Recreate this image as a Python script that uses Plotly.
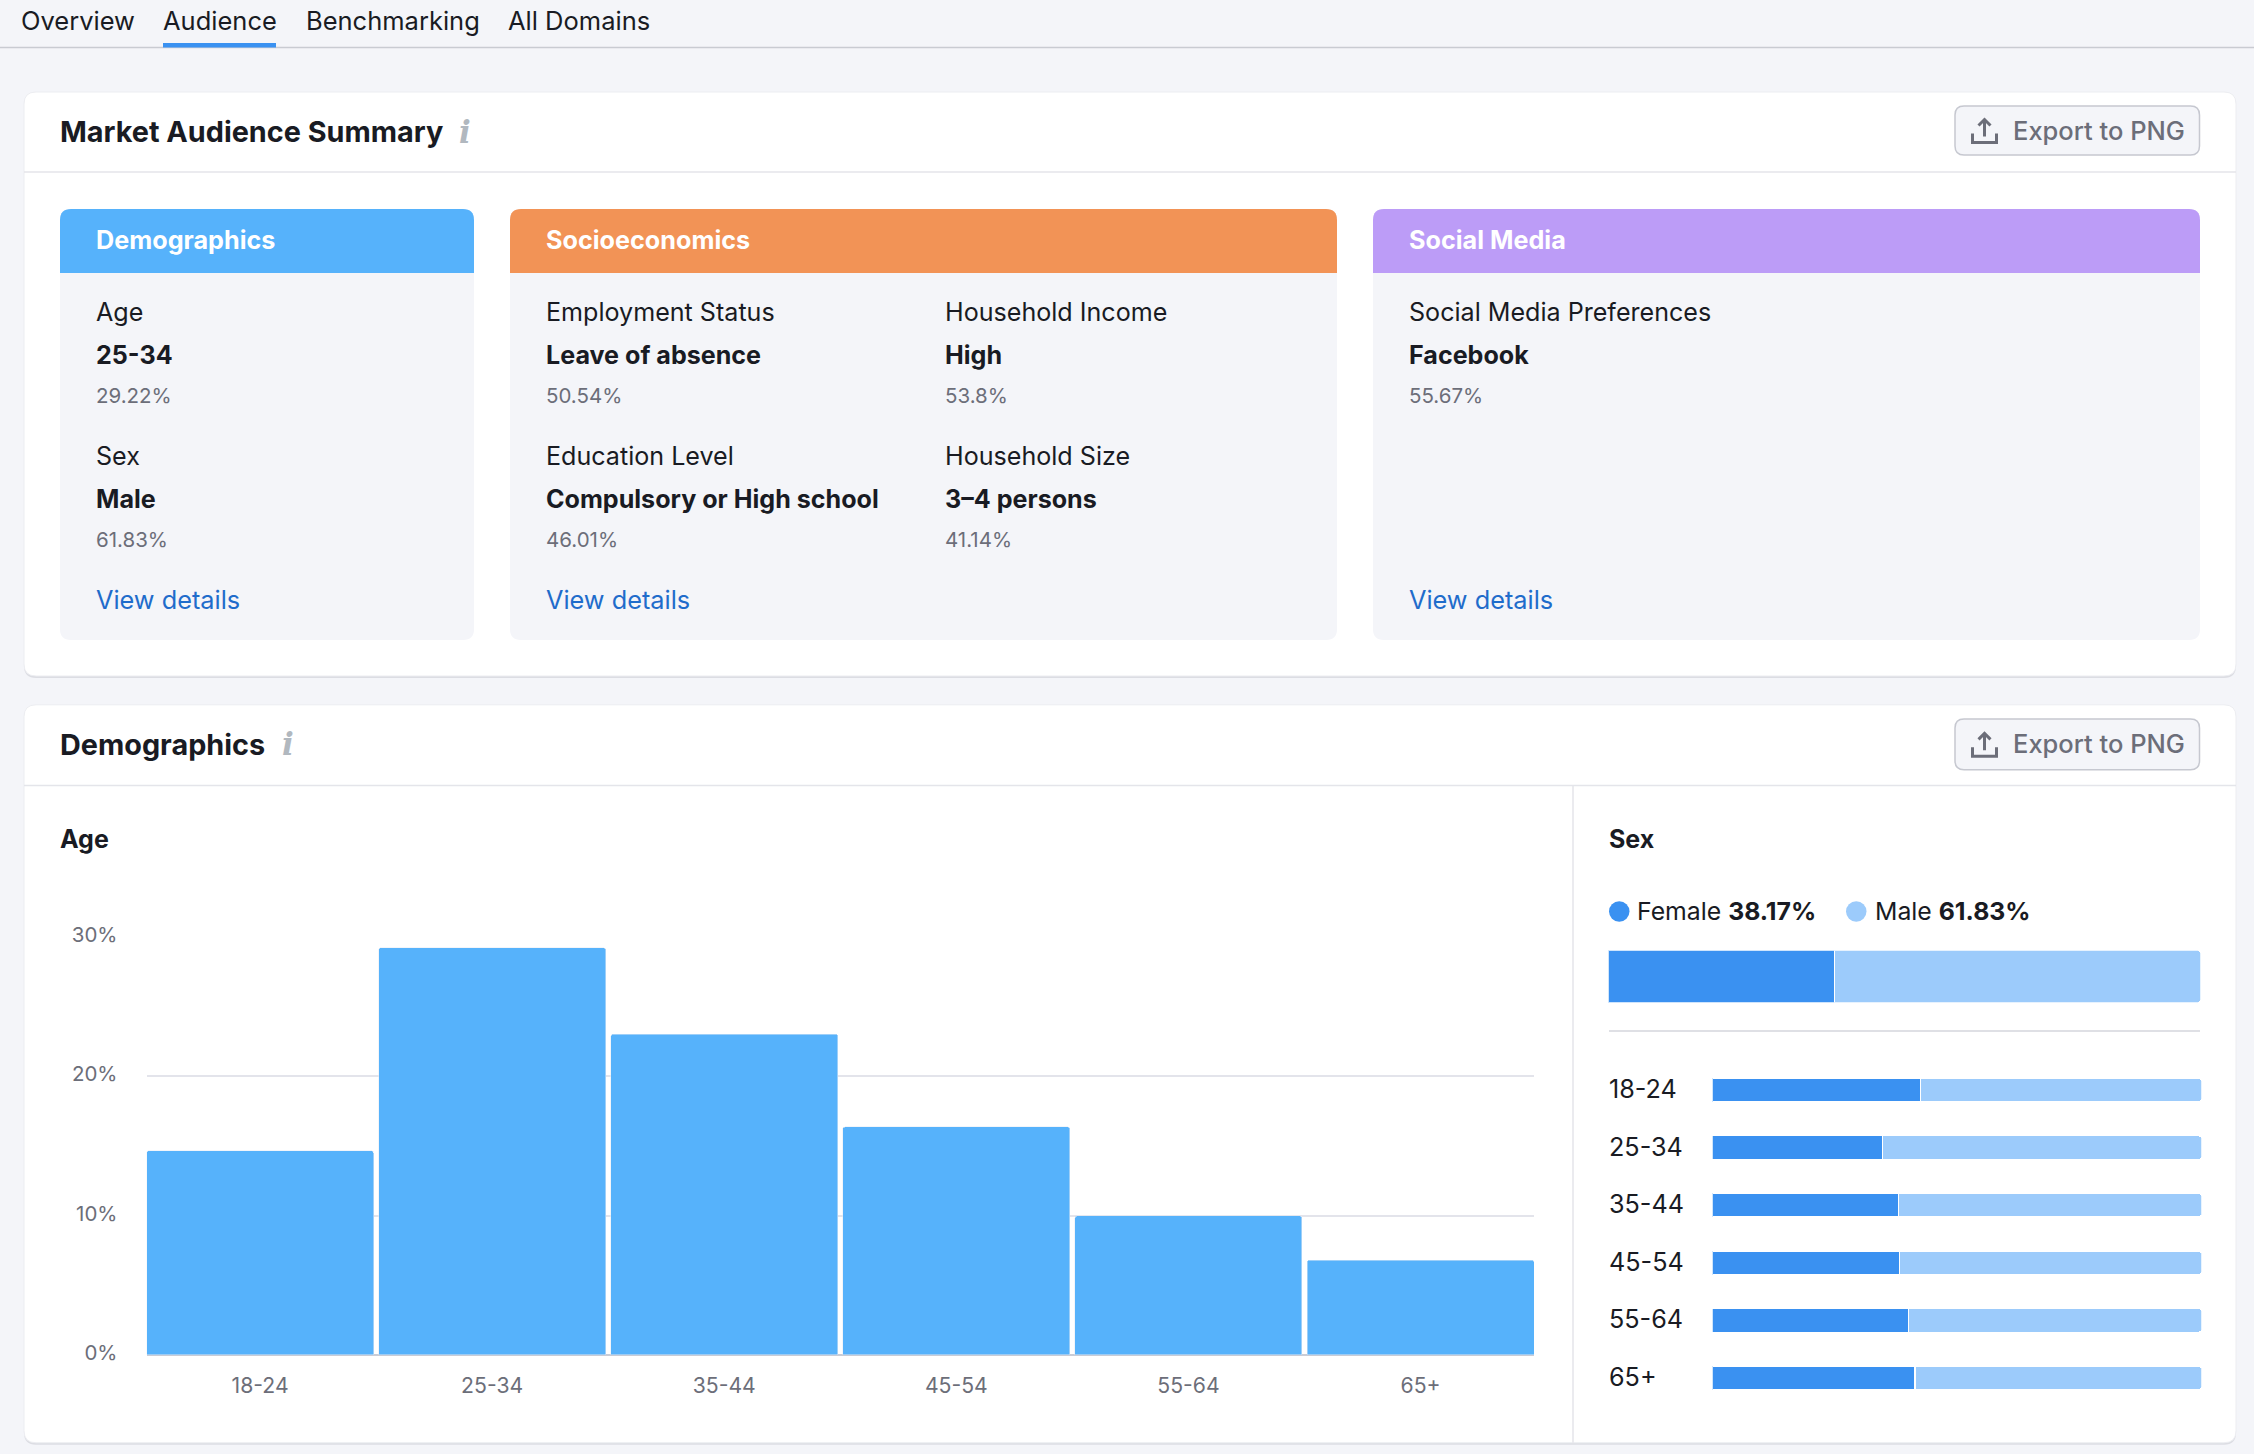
import plotly.graph_objects as go

W, H = 2254, 1454

# chart data
age_groups = ["18-24", "25-34", "35-44", "45-54", "55-64", "65+"]
age_share = [14.64, 29.22, 23.02, 16.36, 9.97, 6.79]
age_ticks = [0, 10, 20, 30]
age_tick_labels = ["0%", "10%", "20%", "30%"]
sex_total_female = 38.17
sex_total_male = 61.83
sex_female_by_age = [42.6, 34.8, 38.1, 38.3, 40.1, 41.4]
sex_male_by_age = [57.4, 65.2, 61.9, 61.7, 59.9, 58.6]

# page text
tabs = ["Overview", "Audience", "Benchmarking", "All Domains"]
demographics_labels = ["Age", "Sex"]
demographics_values = ["25-34", "Male"]
demographics_shares = ["29.22%", "61.83%"]
socio_labels = ["Employment Status", "Household Income", "Education Level", "Household Size"]
socio_values = ["Leave of absence", "High", "Compulsory or High school", "3–4 persons"]
socio_shares = ["50.54%", "53.8%", "46.01%", "41.14%"]
social_labels = ["Social Media Preferences"]
social_values = ["Facebook"]
social_shares = ["55.67%"]

# colours
PAGE = "#f4f5f9"
BORDER = "#e4e5ea"
INK = "#191b23"
GREY = "#6c6e79"
LINK = "#1f6ccb"
BLUE = "#56b2fb"
ORANGE = "#f29356"
PURPLE = "#bc9cf7"
FEMALE = "#3a91f1"
MALE = "#9ccbfb"
FONT = "Inter"

shapes = []
annotations = []


def px(x):
    return x / W


def py(y):
    return 1 - y / H


def text(x, y, s, size=25.1, color=INK, weight=400, anchor="left", family=FONT):
    annotations.append(dict(
        x=px(x - 1.2), y=py(y - 0.5), xref="paper", yref="paper", text=s, showarrow=False,
        xanchor=anchor, yanchor="middle", borderpad=0,
        font=dict(family=family, size=size, color=color, weight=weight),
    ))


def round_rect(x0, y0, x1, y1, r_top, r_bottom, fill, line=None, lw=1):
    # rounded box as an svg path, corners given in page pixels
    path = (
        f"M {px(x0 + r_top)} {py(y0)} L {px(x1 - r_top)} {py(y0)} "
        f"Q {px(x1)} {py(y0)} {px(x1)} {py(y0 + r_top)} "
        f"L {px(x1)} {py(y1 - r_bottom)} Q {px(x1)} {py(y1)} {px(x1 - r_bottom)} {py(y1)} "
        f"L {px(x0 + r_bottom)} {py(y1)} Q {px(x0)} {py(y1)} {px(x0)} {py(y1 - r_bottom)} "
        f"L {px(x0)} {py(y0 + r_top)} Q {px(x0)} {py(y0)} {px(x0 + r_top)} {py(y0)} Z"
    )
    shapes.append(dict(
        type="path", path=path, xref="paper", yref="paper", fillcolor=fill, layer="below",
        line=dict(color=line if line else "rgba(0,0,0,0)", width=lw),
    ))


def hline(x0, x1, y, color=BORDER, width=1.5):
    shapes.append(dict(type="line", xref="paper", yref="paper", layer="below",
                       x0=px(x0), x1=px(x1), y0=py(y), y1=py(y),
                       line=dict(color=color, width=width)))


def vline(x, y0, y1, color=BORDER, width=1.5):
    shapes.append(dict(type="line", xref="paper", yref="paper", layer="below",
                       x0=px(x), x1=px(x), y0=py(y0), y1=py(y1),
                       line=dict(color=color, width=width)))


def card(y0, y1, header_y, title, title_y, info_x, btn_y0, btn_y1):
    round_rect(24, y0 + 2, 2236, y1 + 2, 12, 12, "#dcdde3")
    round_rect(24, y0, 2236, y1, 12, 12, "white", "#ecedf1")
    hline(24, 2236, header_y)
    text(60, title_y, title, size=28.8, weight=650)
    text(info_x + 2, title_y, "<i>i</i>", size=31, color="#b1b8bf", weight=700, anchor="center",
         family="DejaVu Serif")
    # export button
    round_rect(1955, btn_y0, 2199.5, btn_y1, 9, 9, PAGE, "#c6c8d0", 1.5)
    mid = (btn_y0 + btn_y1) / 2
    text(2013, mid, "Export to PNG", size=25.5, color=GREY, weight=500)
    icon = dict(color=GREY, width=3)
    shapes.append(dict(type="path", xref="paper", yref="paper", line=icon, path=(
        f"M {px(1972.5)} {py(mid + 3)} L {px(1972.5)} {py(mid + 12)} "
        f"L {px(1996.5)} {py(mid + 12)} L {px(1996.5)} {py(mid + 3)}")))
    shapes.append(dict(type="path", xref="paper", yref="paper", line=icon, path=(
        f"M {px(1984.5)} {py(mid + 6)} L {px(1984.5)} {py(mid - 11)} "
        f"M {px(1978.5)} {py(mid - 5)} L {px(1984.5)} {py(mid - 11)} L {px(1990.5)} {py(mid - 5)}")))


def panel(x0, x1, color, title):
    round_rect(x0, 209, x1, 640, 11, 11, PAGE)
    round_rect(x0, 209, x1, 273, 11, 0, color)
    text(x0 + 36, 240.5, title, size=25.2, color="white", weight=700)
    text(x0 + 36, 600, "View details", size=25.3, color=LINK)


def stat(x, top, label, value, share):
    text(x, top + 0.5, label)
    text(x, top + 43.5, value, size=25.1, weight=650)
    text(x, top + 83.5, share, size=20.5, color=GREY)


# page chrome
hline(0, W, 47.5, color="#c9cbd2", width=1.5)
for s, x in zip(tabs, [21, 163.5, 306, 508]):
    text(x, 21, s, size=25.5)
shapes.append(dict(type="rect", xref="paper", yref="paper", layer="below", line=dict(width=0),
                   x0=px(163), x1=px(276), y0=py(43), y1=py(47.5), fillcolor=FEMALE))

# summary card
card(92, 676, 172, "Market Audience Summary", 132, 464, 106, 155)
panel(60, 474, BLUE, "Demographics")
panel(510, 1337, ORANGE, "Socioeconomics")
panel(1373, 2200, PURPLE, "Social Media")

for i, top in enumerate([312, 456]):
    stat(96, top, demographics_labels[i], demographics_values[i], demographics_shares[i])
for i, (x, top) in enumerate([(546, 312), (945, 312), (546, 456), (945, 456)]):
    stat(x, top, socio_labels[i], socio_values[i], socio_shares[i])
stat(1409.5, 312, social_labels[0], social_values[0], social_shares[0])

# demographics card
card(704.8, 1442.8, 785.6, "Demographics", 744.7, 287.5, 719, 769.7)
vline(1573, 785.6, 1442.8)
text(60, 839.4, "Age", size=25, weight=650)
text(1609, 839.4, "Sex", size=25, weight=650)

# sex legend
for x0, color in [(1609, FEMALE), (1846, MALE)]:
    shapes.append(dict(type="circle", xref="paper", yref="paper", line=dict(width=0), fillcolor=color,
                       x0=px(x0), x1=px(x0 + 20.5), y0=py(911.5 - 10.25), y1=py(911.5 + 10.25)))
text(1637.5, 911, f"Female <b>{sex_total_female}%</b>", size=24.8)
text(1875, 911, f"Male <b>{sex_total_male}%</b>", size=24.8)
hline(1609, 2200, 1031, color="#d5d6dc")

for group in age_groups:
    annotations.append(dict(
        x=px(1607.8), y=group, xref="paper", yref="y3", text=group, showarrow=False,
        xanchor="left", yanchor="middle", borderpad=0, yshift=1,
        font=dict(family=FONT, size=25.2, color=INK),
    ))

fig = go.Figure()

# age histogram
fig.add_trace(go.Bar(x=age_groups, y=age_share, width=0.978, marker=dict(color=BLUE, cornerradius=2),
                     xaxis="x", yaxis="y", showlegend=False))

# overall split
fig.add_trace(go.Bar(x=[sex_total_female], y=[""], orientation="h", width=1, xaxis="x2", yaxis="y2",
                     marker=dict(color=FEMALE, cornerradius=3, line=dict(color="white", width=1.2)),
                     showlegend=False))
fig.add_trace(go.Bar(x=[sex_total_male], y=[""], orientation="h", width=1, xaxis="x2", yaxis="y2",
                     marker=dict(color=MALE, cornerradius=3, line=dict(color="white", width=1.2)),
                     showlegend=False))

# split per age group
fig.add_trace(go.Bar(x=sex_female_by_age, y=age_groups, orientation="h", width=0.41, xaxis="x3", yaxis="y3",
                     marker=dict(color=FEMALE, cornerradius=3, line=dict(color="white", width=1.2)),
                     showlegend=False))
fig.add_trace(go.Bar(x=sex_male_by_age, y=age_groups, orientation="h", width=0.41, xaxis="x3", yaxis="y3",
                     marker=dict(color=MALE, cornerradius=3, line=dict(color="white", width=1.2)),
                     showlegend=False))

hidden = dict(visible=False, fixedrange=True, automargin=False)

fig.update_layout(
    width=W, height=H, margin=dict(l=0, r=0, t=0, b=0),
    paper_bgcolor=PAGE, plot_bgcolor="rgba(0,0,0,0)",
    barmode="stack",
    shapes=shapes, annotations=annotations,
    font=dict(family=FONT),
    xaxis=dict(
        domain=[px(146.6), px(1534)], anchor="y", type="category", range=[-0.489, 5.489],
        tickfont=dict(size=21.2, color=GREY),
        ticks="outside", ticklen=12, tickcolor="rgba(0,0,0,0)", showgrid=False, showline=False, zeroline=False,
        automargin=False,
    ),
    yaxis=dict(
        domain=[py(1354.8), py(937)], anchor="x", range=[0, 30], tickvals=age_ticks, ticktext=age_tick_labels,
        tickfont=dict(size=20.5, color=GREY), ticks="outside", ticklen=24, tickcolor="rgba(0,0,0,0)",
        ticklabelshift=-2,
        gridcolor="#e3e4eb", gridwidth=1.5, zeroline=True, zerolinecolor="#c9ccd6", zerolinewidth=1.5,
        automargin=False,
    ),
    xaxis2=dict(domain=[px(1608.4), px(2200.6)], anchor="y2", range=[0, 100], **hidden),
    yaxis2=dict(domain=[py(1002.6), py(950.4)], anchor="x2", **hidden),
    xaxis3=dict(domain=[px(1712.4), px(2201.6)], anchor="y3", range=[0, 100], **hidden),
    yaxis3=dict(domain=[py(1406.7), py(1061.2)], anchor="x3", type="category",
                categoryorder="array", categoryarray=age_groups, range=[5.5, -0.5], **hidden),
)

# the page's default body margin would push the figure off the canvas
fig.write_html("out.html", config={"displayModeBar": False},
               post_script="document.body.style.margin = '0';")
